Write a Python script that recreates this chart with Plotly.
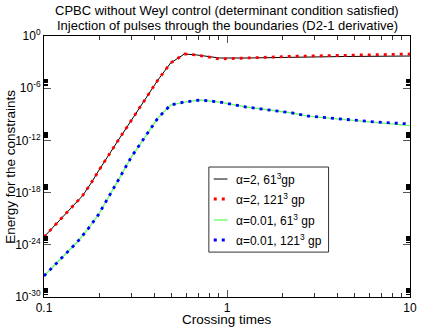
import plotly.graph_objects as go

# alpha = 2 runs
x_a2 = [0.1, 0.124, 0.141, 0.162, 0.181, 0.2, 0.255, 0.327, 0.419, 0.492, 0.585,
        0.685, 0.912, 1.27, 2.36, 4.37, 10]
y_a2_61 = [8e-24, 9.3e-22, 1.7e-20, 4.1e-19, 1.26e-17, 4e-16, 1.1e-12, 3.1e-9, 8.7e-6,
           7.9e-4, 8.5e-3, 6.6e-3, 2.95e-3, 2.95e-3, 3.9e-3, 4.4e-3, 5.0e-3]
y_a2_121 = [8e-24, 9.3e-22, 1.7e-20, 4.1e-19, 1.26e-17, 4e-16, 1.1e-12, 3.1e-9, 8.7e-6,
            7.9e-4, 8.5e-3, 6.6e-3, 2.3e-3, 2.95e-3, 4.7e-3, 6.0e-3, 8.5e-3]

# alpha = 0.01 runs
x_a001 = [0.1, 0.116, 0.132, 0.152, 0.174, 0.198, 0.261, 0.3, 0.356, 0.419, 0.492,
          0.585, 0.713, 0.912, 1.27, 1.77, 2.28, 2.77, 4.22, 6.34, 10]
y_a001_61 = [2.6e-28, 6.2e-27, 1.15e-25, 2.1e-24, 6.6e-23, 2.7e-21, 6.8e-17, 1.23e-14,
             2.45e-12, 3.7e-10, 1.17e-8, 2.57e-8, 4.4e-8, 2.57e-8, 6.9e-9, 3.1e-9,
             1.41e-9, 6.3e-10, 2.9e-10, 1.29e-10, 5.0e-11]
y_a001_121 = [2.6e-28, 6.2e-27, 1.15e-25, 2.1e-24, 6.6e-23, 2.7e-21, 6.8e-17, 1.23e-14,
              2.45e-12, 3.7e-10, 1.17e-8, 2.57e-8, 4.4e-8, 2.57e-8, 6.9e-9, 3.1e-9,
              1.41e-9, 6.3e-10, 2.9e-10, 1.35e-10, 7.8e-11]

names = ['α=2, 61<sup>3</sup>gp', 'α=2, 121<sup>3</sup> gp',
         'α=0.01, 61<sup>3</sup> gp', 'α=0.01, 121<sup>3</sup> gp']
colors = ['black', '#ff0000', '#66ff66', '#0000ff']
dashes = ['solid', '3px,5px', 'solid', '3px,5px']
widths = [1, 2.8, 1.3, 2.8]

x_ticks = [0.1, 1, 10]
x_ticktext = ['0.1', '1', '10']
y_ticks = [1e0, 1e-6, 1e-12, 1e-18, 1e-24, 1e-30]
y_ticktext = ['10<sup>0</sup>', '10<sup>-6</sup>', '10<sup>-12</sup>',
              '10<sup>-18</sup>', '10<sup>-24</sup>', '10<sup>-30</sup>']

title_lines = ['CPBC without Weyl control (determinant condition satisfied)',
               'Injection of pulses through the boundaries (D2-1 derivative)']

font = 'Liberation Sans, Arial, sans-serif'

fig = go.Figure()
for xs, ys, c, d, w, n in zip([x_a2, x_a2, x_a001, x_a001],
                              [y_a2_61, y_a2_121, y_a001_61, y_a001_121],
                              colors, dashes, widths, names):
    fig.add_trace(go.Scatter(x=xs, y=ys, mode='lines', name=n,
                             line=dict(color=c, width=w, dash=d)))

# minor ticks: 2..9 within each decade
x_minor = [k * 0.1 for k in range(2, 10)] + [k for k in range(2, 10)]
y_minor = [k * v for v in y_ticks[1:] for k in range(2, 10)]

fig.update_layout(
    width=424, height=327,
    margin=dict(l=44, r=7, t=36, b=30),
    plot_bgcolor='white', paper_bgcolor='white',
    showlegend=False,
    font=dict(family=font, color='black', size=12),
    xaxis=dict(
        type='log', range=[-1, 1],
        tickvals=x_ticks, ticktext=x_ticktext,
        ticks='inside', ticklen=7, tickcolor='#555',
        showline=True, linecolor='black', mirror='ticks',
        showgrid=False, zeroline=False,
        minor=dict(tickvals=x_minor, ticks='inside', ticklen=4,
                   tickcolor='#333', showgrid=False),
    ),
    yaxis=dict(
        type='log', range=[-30, 0],
        tickvals=y_ticks, ticktext=y_ticktext,
        ticks='inside', ticklen=7, tickcolor='#555',
        showline=True, linecolor='black', mirror='ticks',
        showgrid=False, zeroline=False,
        minor=dict(tickvals=y_minor, ticks='inside', ticklen=4,
                   tickcolor='black', showgrid=False),
    ),
)

# titles
for yy, t in zip([1.0996, 1.042], title_lines):
    fig.add_annotation(xref='paper', yref='paper', x=0.5, y=yy, text=t,
                       showarrow=False, xanchor='center', yanchor='middle',
                       font=dict(size=13))
fig.add_annotation(xref='paper', yref='paper', x=0.5, y=-0.086,
                   text='Crossing times', showarrow=False,
                   xanchor='center', yanchor='middle', font=dict(size=13.5))
fig.add_annotation(xref='paper', yref='paper', x=-0.092, y=0.5,
                   text='Energy for the constraints', showarrow=False, textangle=-90,
                   xanchor='center', yanchor='middle', font=dict(size=13.5))

# legend box drawn by hand (Grace style, short samples)
fig.add_shape(type='rect', xref='paper', yref='paper',
              x0=0.4504, x1=0.7775, y0=0.172, y1=0.498,
              line=dict(color='#333', width=1), fillcolor='white', layer='above')
rows = [0.452, 0.3755, 0.295, 0.2184]
for r, c, d, w, n in zip(rows, colors, dashes, widths, names):
    fig.add_shape(type='line', xref='paper', yref='paper',
                  x0=0.4638, x1=0.5013, y0=r, y1=r, layer='above',
                  line=dict(color=c, width=w, dash=d))
    fig.add_annotation(xref='paper', yref='paper', x=0.518, y=r,
                       xanchor='left', yanchor='middle', showarrow=False,
                       text=n, font=dict(size=12))

fig.write_html('out.html', config={'displayModeBar': False},
               post_script="document.body.style.margin='0';")
